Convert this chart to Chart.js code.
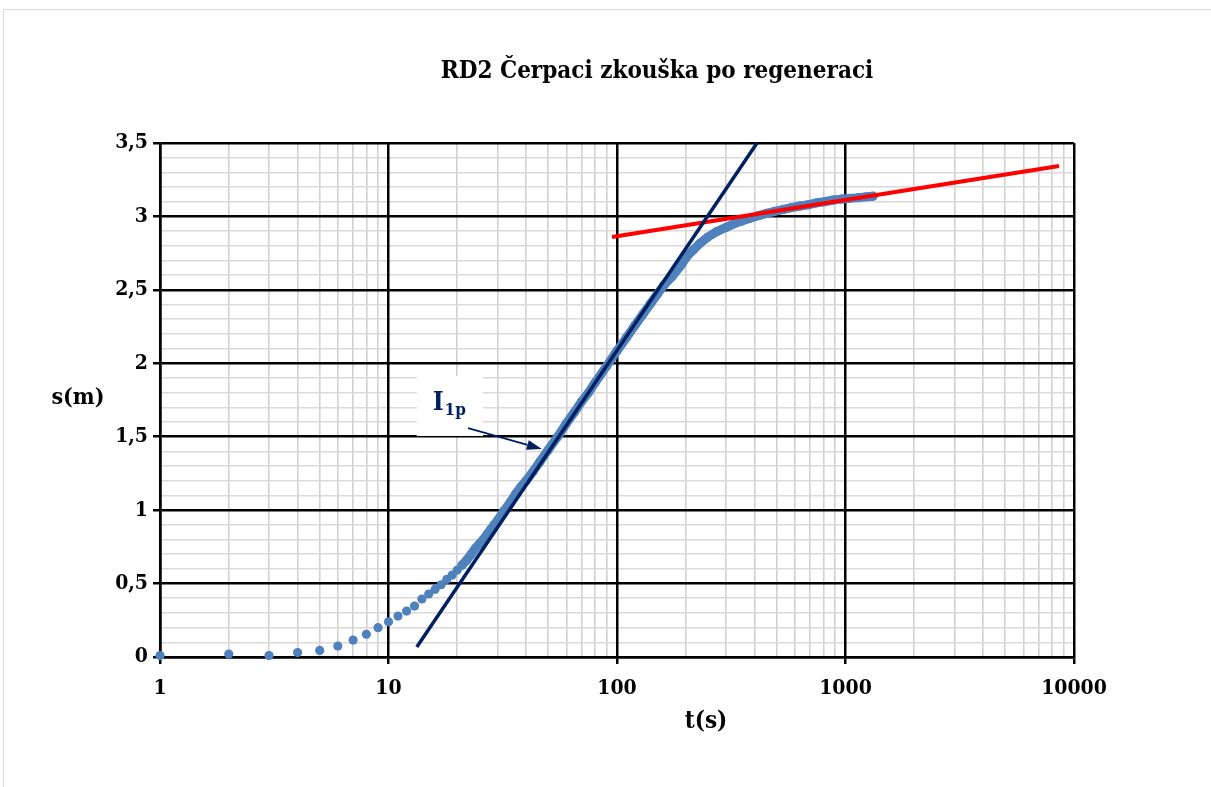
<!DOCTYPE html>
<html>
<head>
<meta charset="utf-8">
<script src="https://cdn.jsdelivr.net/npm/chart.js@4.4.1/dist/chart.umd.min.js"></script>
<style>
  html, body { margin: 0; padding: 0; background: #ffffff; }
  #wrap { position: relative; width: 1211px; height: 787px; overflow: hidden; }
  #frame { position: absolute; left: 3px; top: 9px; width: 1400px; height: 900px; border: 1px solid #d9d9d9; box-sizing: border-box; }
  canvas { position: absolute; left: 0; top: 0; }
</style>
</head>
<body>
<div id="wrap">
  <div id="frame"></div>
  <canvas id="c" width="1211" height="787"></canvas>
</div>
<script>
// ---- Data ----
const chartTitle = "RD2 Čerpaci zkouška po regeneraci";
const xTitle = "t(s)";
const yTitle = "s(m)";

// Early, separate measurements
const tEarly = [1,2,3,4,5,6,7,8,9,10,11,12,13,14,15,16,17,18,19,20,21];
const sEarly = [0.01,0.02,0.01,0.03,0.045,0.075,0.115,0.155,0.20,0.24,0.279,0.313,0.347,0.395,0.429,0.461,0.492,0.529,0.558,0.592,0.626];

// Dense measurements (they merge into a band)
const tDense = [21,22,23,24,25,26,27,28,29,30,32,34,36,38,40,43,46,50,55,60,65,70,75,80,90,100,110,120,130,140,150,160,174,190,202,215,231,250,273,300,323,350,382,415,452,490,535,580,632,690,748,810,885,960,1047,1140,1238,1320];
const sDense = [0.626,0.66,0.70,0.74,0.77,0.80,0.835,0.87,0.90,0.93,0.995,1.05,1.11,1.16,1.20,1.265,1.33,1.41,1.50,1.59,1.665,1.74,1.80,1.865,1.98,2.085,2.175,2.26,2.335,2.405,2.47,2.53,2.59,2.665,2.726,2.77,2.817,2.86,2.896,2.925,2.948,2.968,2.987,3.005,3.021,3.035,3.048,3.06,3.071,3.08,3.093,3.10,3.112,3.118,3.123,3.128,3.134,3.138];

// Fitted straight line I1p (navy)
const tFit1 = [13.3, 410];
const sFit1 = [0.068, 3.5];
// Late-time straight line (red)
const tFit2 = [95.1, 8600];
const sFit2 = [2.86, 3.343];

// Axis ticks
const xMajorTicks = [1, 10, 100, 1000, 10000];
const xMinorMultipliers = [2, 3, 4, 5, 6, 7, 8, 9];
const yMajorTicks = [0, 0.5, 1, 1.5, 2, 2.5, 3, 3.5];
const yMinorTicks = [0.1,0.2,0.3,0.4,0.6,0.7,0.8,0.9,1.1,1.2,1.3,1.4,1.6,1.7,1.8,1.9,2.1,2.2,2.3,2.4,2.6,2.7,2.8,2.9,3.1,3.2,3.3,3.4];
const yLabels = ["0", "0,5", "1", "1,5", "2", "2,5", "3", "3,5"];

// Annotation
const annotLabel = "I";
const annotSub = "1p";
const annotBox = {t0: 13.3, t1: 25.9, s0: 1.505, s1: 1.913};
const annotText = {t: 15.6, s: 1.682};
const annotArrow = {t0: 22.3, s0: 1.559, t1: 46.9, s1: 1.416};

// ---- helpers ----
const pts = (xs, ys) => xs.map((x, i) => ({x: x, y: ys[i]}));
const FONT = "'DejaVu Serif Condensed', 'DejaVu Serif', serif";
const xMinorTicks = [];
xMajorTicks.slice(0, -1).forEach(d => xMinorMultipliers.forEach(m => xMinorTicks.push(d * m)));
const navy = '#002060';
const blue = '#4F81BD';
const xMin = xMajorTicks[0], xMax = xMajorTicks[xMajorTicks.length - 1];
const yMin = yMajorTicks[0], yMax = yMajorTicks[yMajorTicks.length - 1];

const overlay = {
  id: 'overlay',
  beforeDatasetsDraw(chart) {
    const ctx = chart.ctx, xs = chart.scales.x, ys = chart.scales.y;
    const x0 = xs.getPixelForValue(annotBox.t0), x1 = xs.getPixelForValue(annotBox.t1);
    const y0 = ys.getPixelForValue(annotBox.s1), y1 = ys.getPixelForValue(annotBox.s0);
    ctx.save();
    ctx.fillStyle = '#ffffff';
    ctx.fillRect(x0, y0, x1 - x0, y1 - y0);
    ctx.restore();
  },
  afterDraw(chart) {
    const ctx = chart.ctx, xs = chart.scales.x, ys = chart.scales.y;
    ctx.save();
    ctx.fillStyle = navy;
    ctx.textBaseline = 'alphabetic';
    ctx.textAlign = 'left';
    let tx = xs.getPixelForValue(annotText.t), ty = ys.getPixelForValue(annotText.s);
    ctx.font = "bold 26px " + FONT;
    ctx.fillText(annotLabel, tx, ty);
    const w = ctx.measureText(annotLabel).width;
    ctx.font = "bold 17px " + FONT;
    ctx.fillText(annotSub, tx + w + 1, ty + 5);
    const ax0 = xs.getPixelForValue(annotArrow.t0), ay0 = ys.getPixelForValue(annotArrow.s0);
    const ax1 = xs.getPixelForValue(annotArrow.t1), ay1 = ys.getPixelForValue(annotArrow.s1);
    const ang = Math.atan2(ay1 - ay0, ax1 - ax0);
    const hl = 15, hw = 5;
    const bx = ax1 - hl * Math.cos(ang), by = ay1 - hl * Math.sin(ang);
    ctx.strokeStyle = navy; ctx.lineWidth = 1.8;
    ctx.beginPath(); ctx.moveTo(ax0, ay0); ctx.lineTo(bx, by); ctx.stroke();
    ctx.beginPath();
    ctx.moveTo(ax1, ay1);
    ctx.lineTo(bx + hw * Math.sin(ang), by - hw * Math.cos(ang));
    ctx.lineTo(bx - hw * Math.sin(ang), by + hw * Math.cos(ang));
    ctx.closePath(); ctx.fill();
    ctx.fillStyle = '#000000';
    ctx.textAlign = 'center';
    ctx.textBaseline = 'middle';
    ctx.font = "bold 24px " + FONT;
    ctx.fillText(chartTitle, 657, 72);
    ctx.fillText(xTitle, 706, 722);
    ctx.font = "bold 23px " + FONT;
    ctx.fillText(yTitle, 78, 398);
    ctx.restore();
  }
};

const tickFont = { family: FONT, weight: 'bold', size: 21 };

new Chart(document.getElementById('c'), {
  type: 'scatter',
  data: {
    datasets: [
      { label: 'fit1', data: pts(tFit1, sFit1), showLine: true, borderColor: navy, borderWidth: 3.5, pointRadius: 0, order: 0, xAxisID: 'x', yAxisID: 'y' },
      { label: 'fit2', data: pts(tFit2, sFit2), showLine: true, borderColor: '#FF0000', borderWidth: 4, pointRadius: 0, order: 0, xAxisID: 'x', yAxisID: 'y' },
      { label: 'dense', data: pts(tDense, sDense), showLine: true, borderColor: blue, borderWidth: 9, borderCapStyle: 'round', borderJoinStyle: 'round', pointRadius: 4.6, pointBackgroundColor: blue, pointBorderWidth: 0, order: 1, xAxisID: 'x', yAxisID: 'y' },
      { label: 'early', data: pts(tEarly, sEarly), showLine: false, pointRadius: 4.6, pointBackgroundColor: blue, pointBorderWidth: 0, order: 1, xAxisID: 'x', yAxisID: 'y' }
    ]
  },
  options: {
    responsive: false,
    animation: false,
    events: [],
    clip: false,
    layout: { padding: { left: 0, right: 137, top: 143, bottom: 0 } },
    plugins: { legend: { display: false }, tooltip: { enabled: false }, title: { display: false } },
    scales: {
      xMinor: {
        type: 'logarithmic', position: 'bottom', min: xMin, max: xMax,
        afterBuildTicks(s) { s.ticks = xMinorTicks.map(v => ({value: v})); },
        afterFit(s) { s.height = 0; },
        border: { display: false },
        grid: { color: '#d0d0d0', lineWidth: 1.6, drawTicks: false, z: -2 },
        ticks: { display: false }
      },
      yMinor: {
        type: 'linear', position: 'left', min: yMin, max: yMax,
        afterBuildTicks(s) { s.ticks = yMinorTicks.map(v => ({value: v})); },
        afterFit(s) { s.width = 0; },
        border: { display: false },
        grid: { color: '#d9d9d9', lineWidth: 1.6, drawTicks: false, z: -2 },
        ticks: { display: false }
      },
      x: {
        type: 'logarithmic', position: 'bottom', min: xMin, max: xMax,
        afterBuildTicks(s) { s.ticks = xMajorTicks.map(v => ({value: v})); },
        afterFit(s) { s.height = 787 - 657; },
        border: { display: true, color: '#000000', width: 2.5 },
        grid: { color: '#000000', lineWidth: 2.5, tickColor: '#000000', tickLength: 7, tickWidth: 2.5, z: -1 },
        ticks: {
          autoSkip: false, maxRotation: 0, padding: 12, color: '#000000', font: tickFont,
          callback: (v) => String(Math.round(v))
        }
      },
      y: {
        type: 'linear', position: 'left', min: yMin, max: yMax,
        afterBuildTicks(s) { s.ticks = yMajorTicks.map(v => ({value: v})); },
        afterFit(s) { s.width = 160; },
        border: { display: true, color: '#000000', width: 2.5 },
        grid: { color: '#000000', lineWidth: 2.5, tickColor: '#000000', tickLength: 7, tickWidth: 2.5, z: -1 },
        ticks: {
          autoSkip: false, padding: 5, color: '#000000', font: tickFont,
          callback: (v, i) => yLabels[i]
        }
      }
    }
  },
  plugins: [overlay]
});
</script>
</body>
</html>
